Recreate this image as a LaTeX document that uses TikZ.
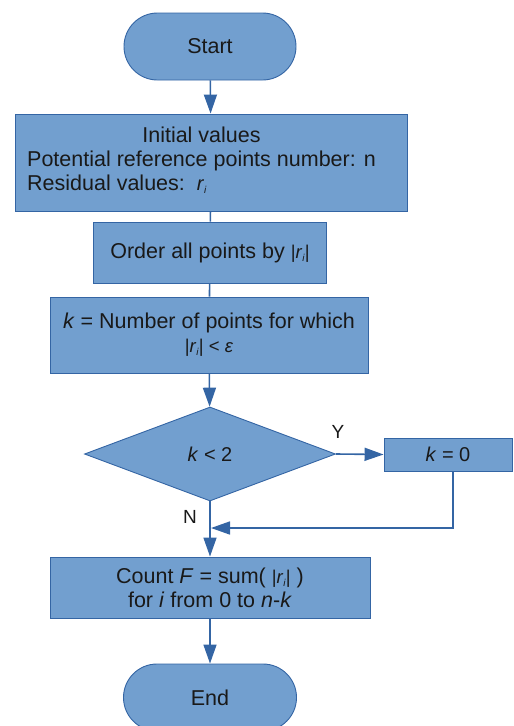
\documentclass[tikz,border=0pt]{standalone}
\usepackage{fontspec}
\setmainfont{Liberation Sans}
\usetikzlibrary{shapes.geometric,shapes.misc,arrows.meta}
\definecolor{fillb}{HTML}{729FCF}
\definecolor{lineb}{HTML}{3465A4}
\newcommand{\myri}{\textit{r}\raisebox{-3pt}{\fontsize{10}{10}\selectfont\textit{i}}}
\newcommand{\smallf}{\fontsize{18.5}{20}\selectfont}
\begin{document}
\begin{tikzpicture}[x=1pt,y=-1pt,
  every node/.style={font=\fontsize{21.5}{24}\selectfont, text=black!90},
  box/.style={draw=lineb, line width=0.9pt, fill=fillb, inner sep=0pt},
  pill/.style={box, rounded rectangle},
  conn/.style={draw=lineb, line width=1.6pt},
  arr/.style={conn, -{Triangle[length=19pt,width=13pt]}}]
\useasboundingbox (0,0) rectangle (514,726);

\node[pill, minimum width=172, minimum height=67] (start) at (210,46.5) {Start};
\node[box, minimum width=392, minimum height=97] (init) at (211,162.5) {};
\node[anchor=west, inner sep=0pt] (initt) at (27,162) {\begin{tabular}{@{}l@{}}\multicolumn{1}{@{}c@{}}{Initial values}\\Potential reference points number: n\\Residual values:\ \ {\fontsize{20}{20}\selectfont\myri}\end{tabular}};
\node[box, minimum width=233, minimum height=61] (order) at (210,252.5) {Order all points by {\smallf|\myri|}};
\node[box, minimum width=318, minimum height=76, align=center] (kbox) at (209,335) {\textit{k} = Number of points for which\\[0pt]{\smallf|\myri| < \textit{ε}}};
\node[box, diamond, minimum width=251, minimum height=94, font=\fontsize{20}{22}\selectfont] (dia) at (210,454) {\textit{k} < 2};
\node[box, minimum width=128, minimum height=33, font=\fontsize{20}{22}\selectfont] (kzero) at (448,454.5) {\textit{k} = 0};
\node[box, minimum width=320, minimum height=61, align=center] (count) at (210,587.5) {Count \textit{F} = sum( {\smallf|\myri|} )\\for \textit{i} from 0 to \textit{n}-\textit{k}};
\node[pill, minimum width=173, minimum height=67] (end) at (210,697.5) {End};

\node[font=\fontsize{19}{22}\selectfont, inner sep=0pt] (ylab) at (338,432) {Y};
\node[font=\fontsize{19}{22}\selectfont, inner sep=0pt] (nlab) at (190,517) {N};
\coordinate (join) at (211,528);

\draw[arr] (start) -- (init);
\draw[conn] (init) -- (order);
\draw[conn] (order) -- (kbox);
\draw[arr] (kbox) -- (dia);
\draw[arr] (dia.east) -- (kzero.west);
\draw[arr] (dia.south) -- (count.north);
\draw[arr] (kzero.south -| 453,0) |- (join);
\draw[arr] (count) -- (end);
\end{tikzpicture}
\end{document}
